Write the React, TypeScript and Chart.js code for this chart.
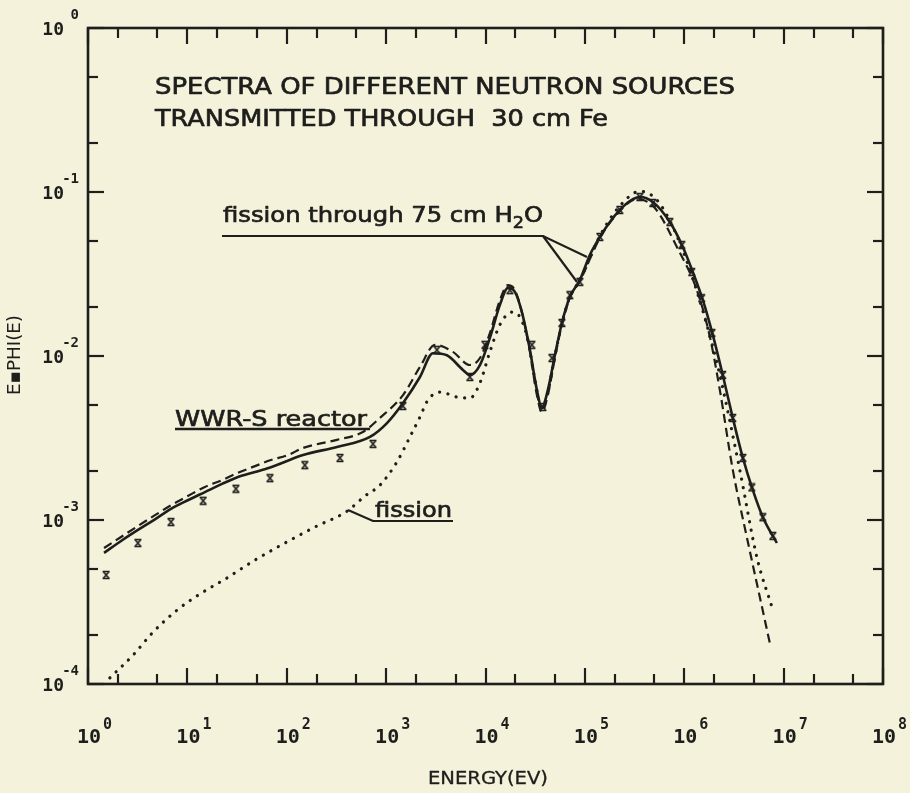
import React, { useEffect, useRef } from "react";
import { Chart, registerables } from "chart.js";

Chart.register(...registerables);

// Neutron energy (eV) and E*PHI(E) values for each spectrum
const reactorEnergy = [1.45, 2.15, 3.18, 4.72, 6.84, 10.1, 15, 22.3, 32.3, 47.9, 69.3, 146, 320, 687, 1020, 1480, 2190, 2960, 4090, 5930, 6970, 8790, 11070, 13960, 16800, 19760, 23240, 27980, 32900, 36900, 42430, 49900, 58700, 70600, 89100, 112200, 141600, 178500, 224900, 283700, 357500, 483000, 716000, 968000, 1.22e6, 1.54e6, 1.94e6, 2.44e6, 3.08e6, 3.89e6, 4.9e6, 6.18e6, 8.55e6];
const reactorFlux = [6.3e-4, 7.45e-4, 8.7e-4, 1.01e-3, 1.17e-3, 1.32e-3, 1.48e-3, 1.66e-3, 1.83e-3, 1.96e-3, 2.1e-3, 2.49e-3, 2.79e-3, 3.21e-3, 3.9e-3, 5.17e-3, 7.45e-3, 1.04e-2, 1.01e-2, 8.22e-3, 7.66e-3, 8.81e-3, 1.29e-2, 2.05e-2, 2.6e-2, 2.46e-2, 1.85e-2, 1.09e-2, 6.21e-3, 4.82e-3, 6.21e-3, 1.01e-2, 1.59e-2, 2.29e-2, 2.91e-2, 4.13e-2, 5.32e-2, 6.56e-2, 7.77e-2, 8.81e-2, 9.32e-2, 8.69e-2, 6.56e-2, 4.62e-2, 3.25e-2, 2.19e-2, 1.34e-2, 7.66e-3, 4.19e-3, 2.39e-3, 1.52e-3, 1.04e-3, 7.24e-4];

const dashedEnergy = [1.45, 2.15, 3.18, 4.72, 6.84, 10.1, 15, 22.3, 32.3, 47.9, 69.3, 103, 146, 320, 584, 866, 1480, 2190, 3100, 4700, 6970, 8790, 11070, 13960, 16800, 19760, 23240, 27980, 32900, 36900, 42430, 49900, 58700, 70600, 89100, 141600, 224900, 333400, 506000, 843000, 1.34e6, 1.81e6, 2.28e6, 3.08e6, 4.26e6, 5.76e6, 7.26e6];
const dashedFlux = [6.75e-4, 7.88e-4, 9.19e-4, 1.07e-3, 1.23e-3, 1.4e-3, 1.59e-3, 1.75e-3, 1.94e-3, 2.13e-3, 2.32e-3, 2.49e-3, 2.75e-3, 3.08e-3, 3.44e-3, 4.19e-3, 5.78e-3, 8.57e-3, 1.17e-2, 1.06e-2, 8.81e-3, 9.72e-3, 1.38e-2, 2.19e-2, 2.71e-2, 2.52e-2, 1.85e-2, 1.06e-2, 5.78e-3, 4.56e-3, 5.78e-3, 9.72e-3, 1.55e-2, 2.26e-2, 2.87e-2, 5.24e-2, 7.66e-2, 9.06e-2, 7.98e-2, 4.62e-2, 2.52e-2, 1.31e-2, 6.21e-3, 2.02e-3, 7.88e-4, 3.39e-4, 1.78e-4];

const fissionEnergy = [1.66, 2.84, 4.51, 7.86, 13.4, 25, 47.9, 95.9, 192, 403, 612, 866, 1285, 1735, 2190, 2634, 3478, 5157, 6970, 8790, 11070, 13960, 18440, 22190, 26720, 31400, 36900, 42430, 49900, 58700, 70600, 89100, 141600, 224900, 357500, 530000, 768000, 1.14e6, 1.61e6, 2.28e6, 3.62e6, 5.37e6, 7.79e6];
const fissionFlux = [1.09e-4, 1.5e-4, 2.07e-4, 2.82e-4, 3.54e-4, 4.43e-4, 5.7e-4, 7.24e-4, 9.06e-4, 1.13e-3, 1.4e-3, 1.63e-3, 2.26e-3, 3.21e-3, 4.25e-3, 5.39e-3, 6.03e-3, 5.62e-3, 5.54e-3, 6.85e-3, 1.06e-2, 1.55e-2, 1.85e-2, 1.73e-2, 1.25e-2, 7.14e-3, 4.82e-3, 6.03e-3, 1.0e-2, 1.57e-2, 2.29e-2, 2.91e-2, 5.39e-2, 8.22e-2, 1.01e-1, 8.94e-2, 6.12e-2, 3.35e-2, 1.71e-2, 7.66e-3, 2.02e-3, 5.95e-4, 2.83e-4];

const waterEnergy = [1.52, 3.18, 6.84, 14.4, 30.8, 67.8, 152, 343, 737, 1476, 3243, 6970, 9860, 17600, 29300, 37800, 46600, 58700, 70600, 89100, 141600, 224900, 357500, 483000, 716000, 946000, 1.19e6, 1.5e6, 1.9e6, 2.44e6, 3.08e6, 3.89e6, 4.79e6, 6.18e6, 7.79e6];
const waterFlux = [4.62e-4, 7.24e-4, 9.72e-4, 1.31e-3, 1.55e-3, 1.8e-3, 2.16e-3, 2.39e-3, 2.91e-3, 4.96e-3, 1.09e-2, 7.45e-3, 1.17e-2, 2.52e-2, 1.17e-2, 4.89e-3, 9.72e-3, 1.59e-2, 2.35e-2, 2.83e-2, 5.32e-2, 7.77e-2, 9.32e-2, 8.57e-2, 6.56e-2, 4.75e-2, 3.25e-2, 2.25e-2, 1.38e-2, 7.66e-3, 4.19e-3, 2.39e-3, 1.58e-3, 1.04e-3, 8.0e-4];

// Axis decades (powers of ten) and minor tick multipliers
const xDecades = [0, 1, 2, 3, 4, 5, 6, 7, 8];
const yDecades = [0, -1, -2, -3, -4];
const minorSteps = [2, 5];

const PAPER = "#f5f2dc";
const INK = "#1e1e1c";

const toPoints = (xs: number[], ys: number[]) => xs.map((x, i) => ({ x, y: ys[i] }));

type Run = { text: string; size: number; dy?: number };

// Draws text runs starting at x, squeezed horizontally to the given width
function drawRuns(
  ctx: CanvasRenderingContext2D,
  runs: Run[],
  family: string,
  x: number,
  baseline: number,
  width: number,
  weight = 0.7
) {
  let total = 0;
  const widths = runs.map((r) => {
    ctx.font = `${r.size}px ${family}`;
    const w = ctx.measureText(r.text).width;
    total += w;
    return w;
  });
  const sx = width / total;
  ctx.save();
  ctx.translate(x, baseline);
  ctx.scale(sx, 1);
  ctx.textAlign = "left";
  ctx.textBaseline = "alphabetic";
  ctx.lineWidth = weight;
  ctx.lineJoin = "round";
  let cx = 0;
  runs.forEach((r, i) => {
    ctx.font = `${r.size}px ${family}`;
    ctx.fillText(r.text, cx, r.dy || 0);
    if (weight > 0) ctx.strokeText(r.text, cx, r.dy || 0);
    cx += widths[i];
  });
  ctx.restore();
}

function line(ctx: CanvasRenderingContext2D, pts: number[][], width = 2.2) {
  ctx.beginPath();
  ctx.lineWidth = width;
  ctx.moveTo(pts[0][0], pts[0][1]);
  for (let i = 1; i < pts.length; i++) ctx.lineTo(pts[i][0], pts[i][1]);
  ctx.stroke();
}

const paperPlugin = {
  id: "paperFrame",
  beforeDraw(chart: any) {
    const { ctx, width, height } = chart;
    ctx.save();
    ctx.fillStyle = PAPER;
    ctx.fillRect(0, 0, width, height);
    ctx.restore();
  },
  afterDraw(chart: any) {
    const { ctx, chartArea } = chart;
    const { left, right, top, bottom } = chartArea;
    const xs = chart.scales.x;
    const ys = chart.scales.y;
    ctx.save();
    ctx.strokeStyle = INK;
    ctx.fillStyle = INK;
    ctx.lineCap = "butt";

    // frame
    ctx.lineWidth = 2.6;
    ctx.strokeRect(left, top, right - left, bottom - top);

    // inward ticks on all four sides
    const major = 16;
    const minor = 10;
    xDecades.forEach((d) => {
      [1, ...minorSteps].forEach((m) => {
        const v = m * Math.pow(10, d);
        if (v > xs.max || v < xs.min) return;
        const px = Math.round(xs.getPixelForValue(v));
        const len = m === 1 ? major : minor;
        line(ctx, [[px, bottom], [px, bottom - len]], 2.2);
        line(ctx, [[px, top], [px, top + len]], 2.2);
      });
    });
    yDecades.forEach((d) => {
      [1, ...minorSteps].forEach((m) => {
        const v = m * Math.pow(10, d);
        if (v > ys.max || v < ys.min) return;
        const py = Math.round(ys.getPixelForValue(v));
        const len = m === 1 ? major : minor;
        line(ctx, [[left, py], [left + len, py]], 2.2);
        line(ctx, [[right, py], [right - len, py]], 2.2);
      });
    });

    // tick labels: 10 with raised exponent
    const mono = '"DejaVu Sans Mono", monospace';
    xDecades.forEach((d) => {
      const px = xs.getPixelForValue(Math.pow(10, d));
      ctx.font = `bold 20px ${mono}`;
      ctx.textAlign = "center";
      ctx.textBaseline = "alphabetic";
      ctx.fillText("10", px + 1, 743);
      const w = ctx.measureText("10").width;
      ctx.font = `bold 15px ${mono}`;
      ctx.textAlign = "left";
      ctx.fillText(String(d), px + 1 + w / 2 + 2, 729);
    });
    yDecades.forEach((d) => {
      const py = ys.getPixelForValue(Math.pow(10, d));
      ctx.font = `bold 18px ${mono}`;
      ctx.textAlign = "right";
      ctx.textBaseline = "alphabetic";
      ctx.fillText("10", 64, py + 7);
      ctx.font = `bold 14px ${mono}`;
      ctx.fillText(d === 0 ? "0" : "-" + Math.abs(d), 79, py - 9);
    });

    // axis titles
    const cond = '"DejaVu Sans Condensed", "DejaVu Sans", sans-serif';
    drawRuns(ctx, [{ text: "ENERGY(EV)", size: 17 }], cond, 428, 784, 120, 0.3);
    ctx.save();
    ctx.translate(20, 395);
    ctx.rotate(-Math.PI / 2);
    drawRuns(ctx, [{ text: "E▪PHI(E)", size: 15 }], `bold ${cond}`, 0, 0, 80, 0);
    ctx.restore();

    // chart title
    const sans = '"DejaVu Sans", sans-serif';
    drawRuns(ctx, [{ text: "SPECTRA OF DIFFERENT NEUTRON SOURCES", size: 23 }], sans, 155, 94, 580);
    drawRuns(ctx, [{ text: "TRANSMITTED THROUGH  30 cm Fe", size: 23 }], sans, 155, 126, 453);

    // curve labels with leader lines
    drawRuns(
      ctx,
      [
        { text: "fission through 75 cm H", size: 22 },
        { text: "2", size: 16, dy: 6 },
        { text: "O", size: 22 },
      ],
      sans,
      223,
      222,
      320
    );
    line(ctx, [[222, 236], [543, 236], [587, 257]], 2.2);
    line(ctx, [[543, 236], [577, 282]], 2.2);

    drawRuns(ctx, [{ text: "WWR-S reactor", size: 22 }], sans, 175, 426, 192);
    line(ctx, [[175, 429], [370, 429]], 2.4);

    drawRuns(ctx, [{ text: "fission", size: 22 }], sans, 375, 517, 77);
    line(ctx, [[348, 510], [373, 521], [453, 521]], 2.2);

    ctx.restore();
  },
};

function makeMarker(): HTMLCanvasElement {
  const c = document.createElement("canvas");
  c.width = 9;
  c.height = 10;
  const g = c.getContext("2d")!;
  g.strokeStyle = INK;
  g.lineWidth = 1.6;
  g.beginPath();
  g.moveTo(1, 1.5); g.lineTo(8, 1.5);
  g.moveTo(1, 8.5); g.lineTo(8, 8.5);
  g.moveTo(1.5, 1.5); g.lineTo(7.5, 8.5);
  g.moveTo(7.5, 1.5); g.lineTo(1.5, 8.5);
  g.stroke();
  return c;
}

export default function App() {
  const ref = useRef<HTMLCanvasElement | null>(null);

  useEffect(() => {
    document.body.style.margin = "0";
    const canvas = ref.current;
    if (!canvas) return;
    const marker = makeMarker();
    const chart = new Chart(canvas, {
      type: "line",
      data: {
        datasets: [
          {
            label: "fission",
            data: toPoints(fissionEnergy, fissionFlux),
            borderColor: INK,
            borderWidth: 3.2,
            borderDash: [0.1, 8.5],
            borderCapStyle: "round",
            cubicInterpolationMode: "monotone",
            pointRadius: 0,
            fill: false,
          },
          {
            label: "dashed",
            data: toPoints(dashedEnergy, dashedFlux),
            borderColor: INK,
            borderWidth: 2.2,
            borderDash: [9, 5],
            cubicInterpolationMode: "monotone",
            pointRadius: 0,
            fill: false,
          },
          {
            label: "WWR-S reactor",
            data: toPoints(reactorEnergy, reactorFlux),
            borderColor: INK,
            borderWidth: 2.6,
            cubicInterpolationMode: "monotone",
            pointRadius: 0,
            fill: false,
          },
          {
            label: "fission through 75 cm H2O",
            data: toPoints(waterEnergy, waterFlux),
            showLine: false,
            pointStyle: marker as any,
            pointRadius: 4,
            borderColor: INK,
            backgroundColor: INK,
          },
        ],
      } as any,
      options: {
        animation: false,
        responsive: false,
        devicePixelRatio: 1,
        events: [],
        layout: { padding: { left: 88, right: 27, top: 28, bottom: 109 } },
        scales: {
          x: { type: "logarithmic", min: 1, max: 1e8, display: false },
          y: { type: "logarithmic", min: 1e-4, max: 1, display: false },
        },
        plugins: {
          legend: { display: false },
          tooltip: { enabled: false },
        },
      } as any,
      plugins: [paperPlugin],
    });
    return () => chart.destroy();
  }, []);

  return (
    <div style={{ width: 910, height: 793, background: PAPER }}>
      <canvas ref={ref} width={910} height={793} style={{ display: "block", width: 910, height: 793 }} />
    </div>
  );
}
